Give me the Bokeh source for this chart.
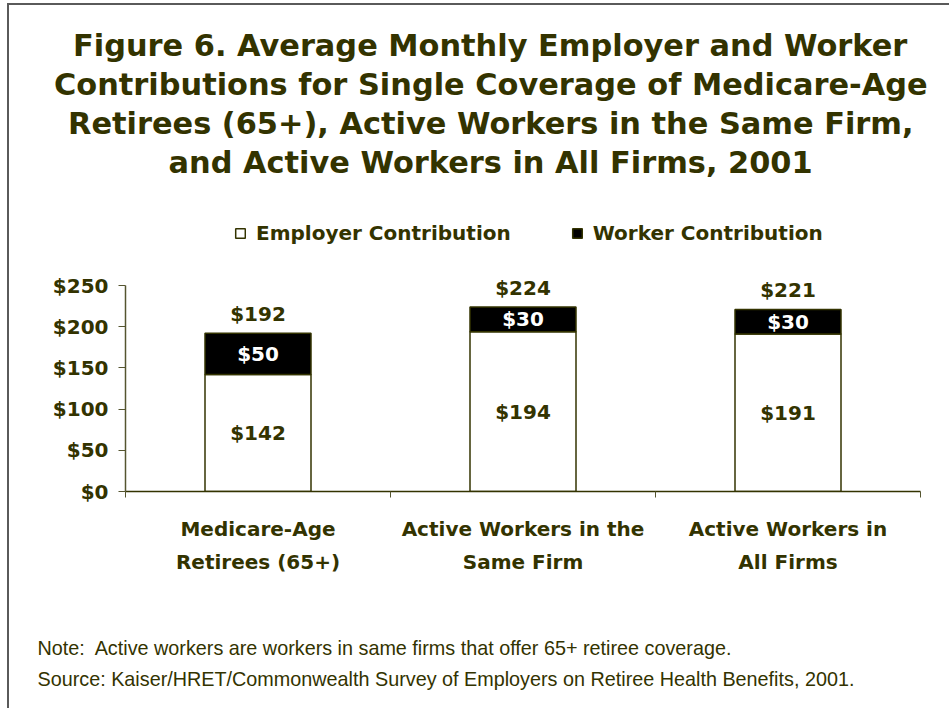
from bokeh.plotting import figure
from bokeh.models import Range1d, FixedTicker, NumeralTickFormatter, Title, ColumnDataSource
from bokeh.core.properties import value
from bokeh.embed import file_html
from bokeh.resources import INLINE

# ---- data ----
categories = ["Medicare-Age\nRetirees (65+)", "Active Workers in the\nSame Firm", "Active Workers in\nAll Firms"]
employer = [142, 194, 191]
worker = [50, 30, 30]
totals = [192, 224, 221]
y_ticks = [0, 50, 100, 150, 200, 250]
series_names = ["Employer Contribution", "Worker Contribution"]
title_lines = [
    "Figure 6. Average Monthly Employer and Worker",
    "Contributions for Single Coverage of Medicare-Age",
    "Retirees (65+), Active Workers in the Same Firm,",
    "and Active Workers in All Firms, 2001",
]
notes = [
    "Note:\u00a0 Active workers are workers in same firms that offer 65+ retiree coverage.",
    "Source: Kaiser/HRET/Commonwealth Survey of Employers on Retiree Health Benefits, 2001.",
]

TXT = "#333300"
BOLD = "DejaVu Sans"
NOTE_FONT = "Liberation Sans"

W, H = 942, 705
MB_L, MB_R, MB_T, MB_B = 116, 31, 175, 219
frame_h = H - MB_T - MB_B
y_top = 250 * frame_h / 206.0

xs = [i + 0.5 for i in range(len(categories))]
src = ColumnDataSource(dict(
    x=xs,
    employer=employer,
    worker=worker,
    total=totals,
    emp_mid=[e / 2 for e in employer],
    wrk_mid=[e + w / 2 for e, w in zip(employer, worker)],
    emp_lbl=["$%d" % v for v in employer],
    wrk_lbl=["$%d" % v for v in worker],
    tot_lbl=["$%d" % v for v in totals],
))

p = figure(width=W, height=H, output_backend="svg", toolbar_location=None,
           x_range=Range1d(0, len(categories)), y_range=Range1d(0, y_top),
           min_border_left=MB_L, min_border_right=MB_R,
           min_border_top=MB_T, min_border_bottom=MB_B)
p.styles = {"margin-left": "7px", "margin-top": "3px",
            "border-left": "2px solid #5a5a5a", "border-top": "2px solid #5a5a5a"}
p.outline_line_color = None
p.xgrid.visible = False
p.ygrid.visible = False
p.background_fill_color = "white"
p.border_fill_color = "white"

rs = p.vbar_stack(["employer", "worker"], x="x", width=0.4, source=src,
                  fill_color=["white", "black"], line_color=TXT, line_width=1.5,
                  legend_label=series_names)

def bold_text(y, text, color, baseline="middle", yoff=0):
    p.text(x="x", y=y, text=text, source=src, text_align="center",
           text_baseline=baseline, y_offset=yoff, text_font=value(BOLD),
           text_font_style="bold", text_font_size="20px", text_color=color)

bold_text("emp_mid", "emp_lbl", TXT)
bold_text("wrk_mid", "wrk_lbl", "white")
bold_text("total", "tot_lbl", TXT, baseline="bottom", yoff=-7)

# y axis
ya = p.yaxis[0]
ya.ticker = FixedTicker(ticks=y_ticks)
ya.formatter = NumeralTickFormatter(format="$0")
ya.bounds = (0, 250)
ya.axis_line_color = "#555530"
ya.axis_line_width = 1.5
ya.major_tick_line_color = "#555530"
ya.major_tick_out = 7
ya.major_tick_in = 0
ya.minor_tick_line_color = None
ya.major_label_standoff = 10
ya.major_label_text_font = BOLD
ya.major_label_text_font_style = "bold"
ya.major_label_text_font_size = "20px"
ya.major_label_text_color = TXT

# x axis
xa = p.xaxis[0]
xa.ticker = FixedTicker(ticks=xs, minor_ticks=list(range(len(categories) + 1)))
xa.major_label_overrides = {x: c for x, c in zip(xs, categories)}
xa.axis_line_color = TXT
xa.axis_line_width = 1.5
xa.major_tick_line_color = None
xa.minor_tick_line_color = "#555530"
xa.minor_tick_out = 6
xa.minor_tick_in = 0
xa.major_label_standoff = 19
xa.major_label_text_font = BOLD
xa.major_label_text_font_style = "bold"
xa.major_label_text_font_size = "20px"
xa.major_label_text_color = TXT
xa.major_label_text_line_height = 1.4

# legend
lg = p.legend[0]
lg.orientation = "horizontal"
lg.location = (109, 246)
lg.border_line_color = None
lg.background_fill_alpha = 0
lg.padding = 0
lg.margin = 0
lg.spacing = 60
lg.glyph_width = 12
lg.glyph_height = 12
lg.label_standoff = 10
lg.label_text_font = BOLD
lg.label_text_font_style = "bold"
lg.label_text_font_size = "20px"
lg.label_text_color = TXT

# title lines (above the frame), added innermost first; left offsets centre each
# line on the page's centre rather than the frame's
title_offsets = [-52.5, -71.5, -57.5, 43]
for line, off in reversed(list(zip(title_lines, title_offsets))):
    p.add_layout(Title(text=line, align="left", offset=off, standoff=1.8,
                       text_font=BOLD, text_font_style="bold", text_font_size="30.4px",
                       text_color=TXT), "above")

# notes (below the axis): spacer, then one title per line
p.add_layout(Title(text="\u00a0", text_font_size="1px", standoff=51), "below")
for line in notes:
    p.add_layout(Title(text=line, align="left", offset=-88, standoff=7,
                       text_font=NOTE_FONT, text_font_style="normal", text_font_size="19.8px",
                       text_color=TXT), "below")

open("out.html", "w").write(file_html(p, INLINE))
